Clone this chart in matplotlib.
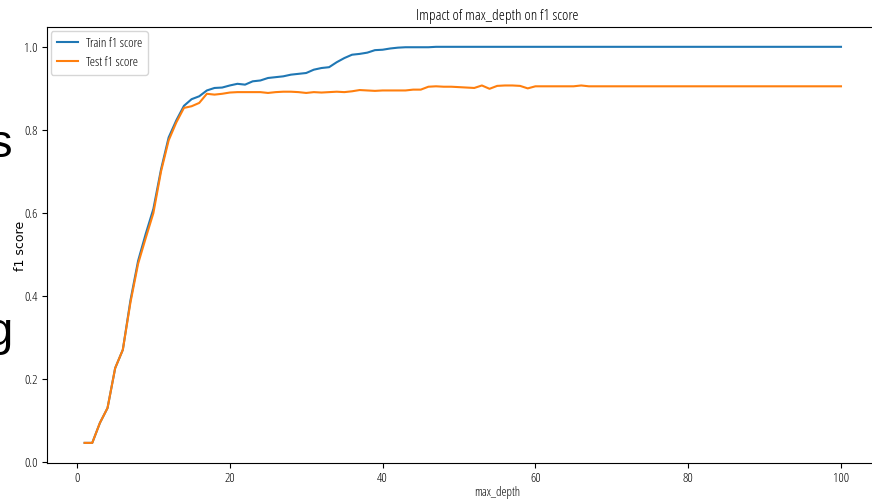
import matplotlib
matplotlib.use("Agg")
import matplotlib.pyplot as plt
from matplotlib import font_manager as fm
from matplotlib.textpath import TextPath

# max_depth values evaluated
max_depth = list(range(1, 101))

train_head = [0.047, 0.047, 0.095, 0.131, 0.227, 0.271, 0.390, 0.485, 0.550, 0.610,
              0.705, 0.782, 0.823, 0.858, 0.874, 0.881, 0.895, 0.901, 0.902, 0.907,
              0.911, 0.909, 0.917, 0.919, 0.925, 0.927, 0.929, 0.933, 0.935, 0.937,
              0.945, 0.949, 0.951, 0.963, 0.973, 0.981, 0.983, 0.986, 0.992, 0.993,
              0.996, 0.998, 0.999, 0.999, 0.999, 0.999]
train_f1 = train_head + [1.0] * (100 - len(train_head))

test_head = [0.047, 0.047, 0.095, 0.131, 0.227, 0.271, 0.385, 0.478, 0.540, 0.600,
             0.700, 0.775, 0.818, 0.853, 0.857, 0.865, 0.887, 0.885, 0.887, 0.890,
             0.891, 0.891, 0.891, 0.891, 0.889, 0.891, 0.892, 0.892, 0.891, 0.889,
             0.891, 0.890, 0.891, 0.892, 0.891, 0.893, 0.896, 0.895, 0.894, 0.895,
             0.895, 0.895, 0.895, 0.897, 0.897, 0.904, 0.905, 0.904, 0.904, 0.903,
             0.902, 0.901, 0.907, 0.899, 0.906, 0.907, 0.907, 0.906, 0.900, 0.905,
             0.905, 0.905, 0.905, 0.905, 0.905, 0.907]
test_f1 = test_head + [0.905] * (100 - len(test_head))

TITLE = "Impact of max_depth on f1 score"
FAMILIES = ("Liberation Sans", "Roboto", "Open Sans", "DejaVu Sans", "Noto Sans", "Lato")


def _weight(f):
    w = f.weight
    if isinstance(w, str):
        w = {"normal": 400, "regular": 400, "light": 300, "book": 400}.get(w.lower(), 700)
    return int(w)


def narrow_font():
    """Narrowest light/regular sans face among a few families (width per cap height)."""
    best, best_score = None, None
    for f in fm.fontManager.ttflist:
        name = f.name
        if not name.startswith(FAMILIES):
            continue
        if any(k in name for k in ("CJK", "Mono", "Serif", "Display", "Math", "Symbols")):
            continue
        if f.style != "normal":
            continue
        w = _weight(f)
        if w < 300 or w > 400:
            continue
        try:
            prop = fm.FontProperties(fname=f.fname)
            tw = TextPath((0, 0), TITLE, size=10, prop=prop).get_extents().width
            th = TextPath((0, 0), "I", size=10, prop=prop).get_extents().height
        except Exception:
            continue
        if th <= 0:
            continue
        score = tw / th + (0.5 if w != 400 else 0.0)
        if best_score is None or score < best_score:
            best, best_score = f.fname, score
    if best is None:
        return fm.FontProperties(family="Liberation Sans")
    return fm.FontProperties(fname=best)


nfp = narrow_font()


def fp(size):
    p = nfp.copy()
    p.set_size(size)
    return p


fig = plt.figure(figsize=(8.72, 5.0), dpi=100)
# axes run past the right edge of the canvas
ppu = 832 / 108.9
ax = fig.add_axes([46.8 / 872, 37.3 / 500, 900 / 872, 435.7 / 500])
ax.spines["right"].set_visible(False)

ax.plot(max_depth, train_f1, color="#1f77b4", lw=1.5, label="Train f1 score")
ax.plot(max_depth, test_f1, color="#ff7f0e", lw=1.5, label="Test f1 score")
ax.set_xlim(-3.95, -3.95 + 900 / ppu)
ax.set_ylim(-0.0007, 1.0477)

ax.set_xticks([0, 20, 40, 60, 80, 100])
ax.set_yticks([0.0, 0.2, 0.4, 0.6, 0.8, 1.0])
for lab in ax.get_xticklabels() + ax.get_yticklabels():
    lab.set_fontproperties(fp(9.5))
ax.tick_params(length=3.5, width=0.8, pad=3)

ax.set_title(TITLE, fontproperties=fp(11), pad=5)
ax.set_xlabel("max_depth", fontproperties=fp(9), labelpad=1)
fig.text(20 / 872, (500 - 246) / 500, "f1 score", rotation=90,
         ha="center", va="center", fontfamily="DejaVu Sans", fontsize=9)

leg = ax.legend(loc="upper left", prop=fp(9.5), handlelength=1.6,
                handletextpad=0.6, borderpad=0.45, borderaxespad=0.3,
                framealpha=0.8, labelspacing=0.45)

# slide text fragments beside the chart
fig.text(12 / 872, (500 - 157) / 500, "s", ha="right", va="baseline",
         fontfamily="Liberation Sans", fontsize=34)
fig.text(13 / 872, (500 - 345) / 500, "g", ha="right", va="baseline",
         fontfamily="Liberation Sans", fontsize=34)

fig.savefig("out.png", dpi=100)
